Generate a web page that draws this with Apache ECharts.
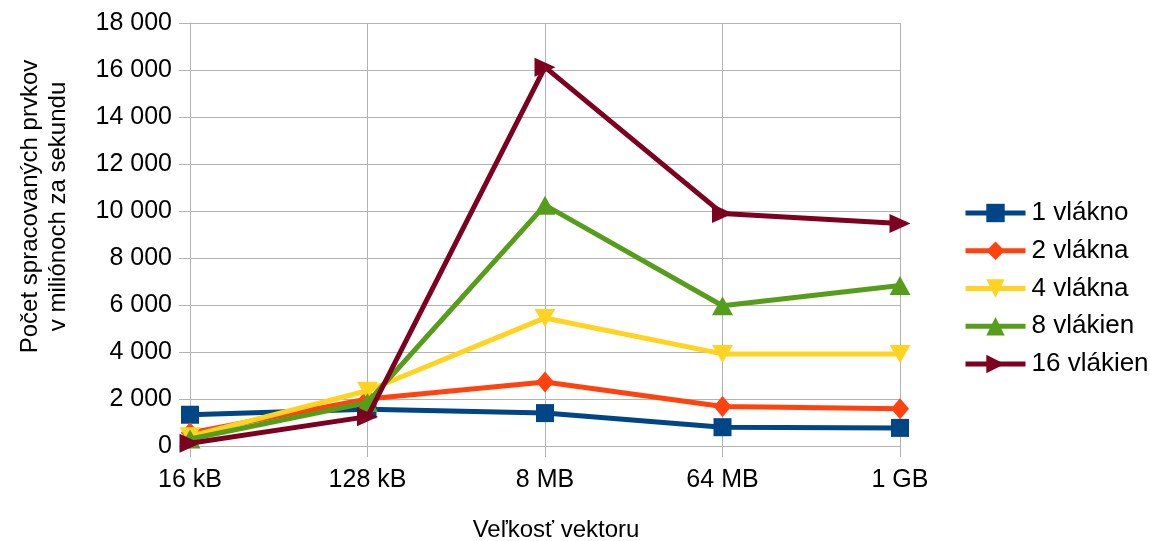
<!DOCTYPE html>
<html>
<head>
<meta charset="utf-8">
<script src="https://cdn.jsdelivr.net/npm/echarts@6/dist/echarts.min.js"></script>
<style>
  html, body { margin: 0; padding: 0; background: #fff; }
  #chart { width: 1150px; height: 541px; }
</style>
</head>
<body>
<div id="chart"></div>
<script>
// Vector sizes on the category axis
const categories = ['16 kB', '128 kB', '8 MB', '64 MB', '1 GB'];

// Processed elements per second (millions) for each thread count
const seriesNames = ['1 vlákno', '2 vlákna', '4 vlákna', '8 vlákien', '16 vlákien'];
const threads1  = [1330, 1560, 1400, 800, 770];
const threads2  = [560, 2000, 2720, 1680, 1580];
const threads4  = [420, 2350, 5450, 3920, 3920];
const threads8  = [300, 1850, 10250, 5970, 6830];
const threads16 = [120, 1250, 16120, 9890, 9470];

const colors  = ['#004586', '#ff420e', '#ffd320', '#579d1c', '#7e0021'];
const symbols = ['rect', 'diamond', 'triangle', 'triangle', 'triangle'];
const rotations = [0, 0, 180, 0, -90];
const sizes = [[18, 18], [18, 21], [21, 18], [21, 19], [19, 21]];
const values = [threads1, threads2, threads4, threads8, threads16];

const fontFamily = '"Liberation Sans", Arial, sans-serif';

const chart = echarts.init(document.getElementById('chart'), null, { renderer: 'canvas' });

chart.setOption({
  animation: false,
  backgroundColor: '#ffffff',
  grid: { left: 190, right: 250, top: 23, bottom: 95, containLabel: false, outerBoundsMode: 'none' },
  legend: {
    orient: 'vertical',
    left: 963,
    top: 200,
    padding: 0,
    itemWidth: 60,
    itemHeight: 23,
    itemGap: 11.75,
    lineStyle: { width: 5 },
    textStyle: { fontFamily, fontSize: 26, lineHeight: 26, color: '#000', padding: [0, 0, 0, 1] },
    data: seriesNames
  },
  xAxis: {
    type: 'category',
    data: categories,
    boundaryGap: false,
    name: 'Veľkosť vektoru',
    nameLocation: 'middle',
    nameGap: 72,
    nameTextStyle: { fontFamily, fontSize: 24, color: '#000', padding: [0, 0, 0, 22] },
    axisLine: { lineStyle: { color: '#b3b3b3', width: 1 } },
    axisTick: { show: true, length: 11, lineStyle: { color: '#b3b3b3' } },
    axisLabel: { fontFamily, fontSize: 25, color: '#000', margin: 22 },
    splitLine: { show: true, lineStyle: { color: '#b3b3b3', width: 1 } }
  },
  yAxis: {
    type: 'value',
    min: 0,
    max: 18000,
    interval: 2000,
    name: 'Počet spracovaných prvkov\nv miliónoch za sekundu',
    nameLocation: 'middle',
    nameGap: 118,
    nameTextStyle: { fontFamily, fontSize: 24, color: '#000', lineHeight: 28, padding: [0, 0, 0, 56] },
    axisLine: { show: true, lineStyle: { color: '#b3b3b3', width: 1 } },
    axisTick: { show: true, length: 11, lineStyle: { color: '#b3b3b3' } },
    axisLabel: {
      fontFamily, fontSize: 25, color: '#000', margin: 18,
      formatter: v => v >= 1000 ? Math.floor(v / 1000) + ' ' + String(v % 1000).padStart(3, '0') : String(v)
    },
    splitLine: { show: true, lineStyle: { color: '#b3b3b3', width: 1 } }
  },
  series: seriesNames.map((name, i) => ({
    name,
    type: 'line',
    data: values[i],
    color: colors[i],
    symbol: symbols[i],
    symbolSize: sizes[i],
    symbolRotate: rotations[i],
    lineStyle: { width: 5, color: colors[i] },
    itemStyle: { color: colors[i] },
    z: 2 + i
  }))
});
</script>
</body>
</html>
